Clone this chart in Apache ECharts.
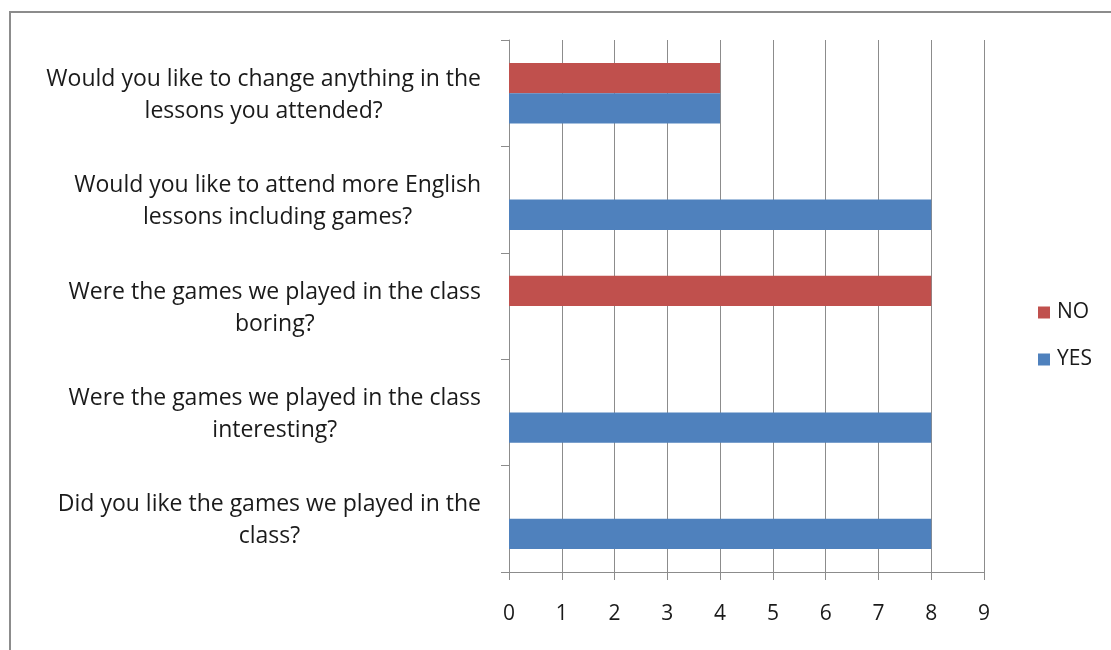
<!DOCTYPE html>
<html>
<head>
<meta charset="utf-8">
<script src="https://cdn.jsdelivr.net/npm/echarts@6/dist/echarts.min.js"></script>
<style>
html,body{margin:0;padding:0;background:#fff;}
#c{width:1111px;height:650px;}
</style>
</head>
<body>
<div id="c"></div>
<script>
const categories = [
  "Did you like the games we played in the\nclass?",
  "Were the games we played in the class\ninteresting?",
  "Were the games we played in the class\nboring?",
  "Would you like to attend more English\nlessons including games?",
  "Would you like to change anything in the\nlessons you attended?"
];
const yesValues = [8, 8, 0, 8, 4];
const noValues = [0, 0, 8, 0, 4];
const legendOrder = ["NO", "YES"];

const FONT = "Open Sans";
const chart = echarts.init(document.getElementById('c'), null, {renderer: 'canvas'});
chart.setOption({
  animation: false,
  backgroundColor: '#fff',
  graphic: [{
    type: 'rect',
    shape: {x: 10, y: 12, width: 1120, height: 660},
    style: {fill: 'none', stroke: '#8c8c8c', lineWidth: 2},
    silent: true
  }],
  grid: {left: 509, right: 127, top: 40, bottom: 78, containLabel: false},
  legend: {
    orient: 'vertical',
    left: 1033,
    top: 297,
    itemWidth: 12,
    itemHeight: 12,
    itemGap: 26,
    icon: 'rect',
    data: legendOrder,
    textStyle: {fontFamily: FONT, fontSize: 21, color: '#1a1a1a', padding: [0,0,0,2]}
  },
  xAxis: {
    type: 'value',
    min: 0, max: 9, interval: 1,
    axisLine: {show: true, lineStyle: {color: '#8c8c8c', width: 1}},
    axisTick: {show: true, length: 8, lineStyle: {color: '#8c8c8c'}},
    splitLine: {show: true, lineStyle: {color: '#8c8c8c', width: 1}},
    axisLabel: {fontFamily: FONT, fontSize: 21, color: '#1a1a1a', margin: 32}
  },
  yAxis: {
    type: 'category',
    data: categories,
    axisLine: {show: true, lineStyle: {color: '#8c8c8c', width: 1}},
    axisTick: {show: true, length: 8, lineStyle: {color: '#8c8c8c'}},
    axisLabel: {
      margin: 28,
      align: 'right',
      padding: [4, 0, 0, 0],
      formatter: v => v.split('\n').map(l => '{c|' + l + '}').join('\n'),
      rich: {c: {fontFamily: FONT, fontSize: 23, color: '#1a1a1a', lineHeight: 32, align: 'center'}}
    },
    splitLine: {show: false}
  },
  series: [
    {name: 'NO', type: 'bar', data: noValues, barGap: '0%', barCategoryGap: '43%', itemStyle: {color: '#C0504D'}},
    {name: 'YES', type: 'bar', data: yesValues, barGap: '0%', barCategoryGap: '43%', itemStyle: {color: '#4F81BD'}}
  ]
});
</script>
</body>
</html>
